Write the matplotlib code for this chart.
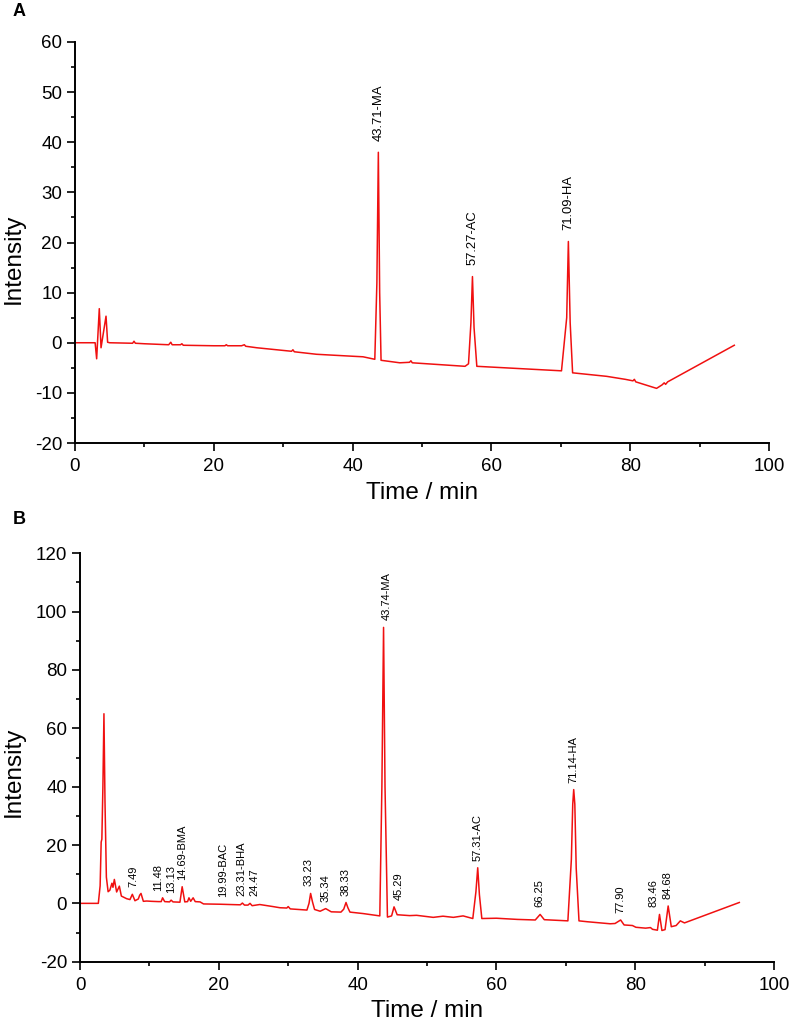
import matplotlib
matplotlib.use("Agg")
import matplotlib.pyplot as plt
import numpy as np
from matplotlib.ticker import MultipleLocator

plt.rcParams["font.family"] = ["Liberation Sans", "DejaVu Sans"]
plt.rcParams["axes.unicode_minus"] = False

# ---- panel A: standard mixture (time in min, intensity) ----
a_time = [0, 2.9, 3.12, 3.5, 3.75, 4.47, 4.7, 5.0, 8.3, 8.5, 8.7, 10.0, 13.5, 13.8,
          14.0, 15.2, 15.4, 15.6, 20.0, 21.6, 21.8, 22.0, 24.0, 24.4, 24.6, 26.2,
          31.2, 31.4, 31.6, 34.8, 40.1, 41.5, 43.2, 43.5, 43.71, 43.9, 44.1, 46.8,
          48.2, 48.4, 48.6, 56.2, 56.7, 57.05, 57.27, 57.5, 57.9, 70.1, 70.85,
          71.09, 71.35, 71.7, 76.6, 79.3, 80.4, 80.6, 80.8, 83.8, 84.6, 84.9, 85.1,
          85.4, 95.0]
a_int = [0, 0, -3.2, 6.8, -1.0, 5.3, 0.1, 0.0, -0.1, 0.3, -0.1, -0.2, -0.4, 0.1,
         -0.4, -0.4, -0.2, -0.5, -0.6, -0.6, -0.4, -0.6, -0.6, -0.4, -0.7, -1.0,
         -1.7, -1.4, -1.8, -2.3, -2.7, -2.8, -3.3, 12.0, 38.0, 10.0, -3.5, -4.0,
         -3.9, -3.6, -4.0, -4.7, -4.2, 4.0, 13.2, 3.0, -4.7, -5.6, 5.0,
         20.2, 4.0, -6.0, -6.7, -7.3, -7.6, -7.3, -7.8, -9.1, -8.4, -8.0, -8.3,
         -7.8, -0.5]
a_labels_t = [43.71, 57.27, 71.09]
a_labels = ["43.71-MA", "57.27-AC", "71.09-HA"]

# ---- panel B: sample ----
b_time = [0, 2.64, 2.9, 3.05, 3.15, 3.3, 3.45, 3.6, 3.8, 4.05, 4.3, 4.6, 4.75, 4.95,
          5.28, 5.67, 5.96, 6.72, 7.2, 7.54, 7.92, 8.4, 8.6, 8.79, 9.13, 9.6, 10.3,
          11.3, 11.7, 11.9, 12.2, 12.9, 13.13, 13.4, 14.4, 14.72, 15.1, 15.5, 15.7,
          15.95, 16.3, 16.6, 17.3, 17.8, 20.2, 21.6, 23.1, 23.4, 23.7, 24.2, 24.5,
          24.8, 25.9, 27.8, 28.8, 29.8, 30.0, 30.3, 32.7, 33.0, 33.23, 33.5, 33.8,
          34.6, 35.4, 36.2, 37.6, 38.0, 38.33, 38.6, 38.9, 40.8, 42.3, 43.2, 43.5,
          43.74, 43.95, 44.3, 44.9, 45.25, 45.7, 47.5, 48.5, 50.9, 52.3, 53.8, 55.2,
          56.6, 57.05, 57.31, 57.55, 57.9, 60.0, 63.0, 65.6, 66.3, 66.9, 70.3, 70.8,
          71.0, 71.14, 71.3, 71.5, 71.9, 73.1, 76.4, 77.1, 77.9, 78.4, 79.6, 80.1,
          81.5, 82.2, 82.5, 83.2, 83.5, 83.85, 84.3, 84.75, 85.2, 85.9, 86.5, 87.1,
          95.0]
b_int = [0, 0, 6.0, 21.0, 22.0, 40.0, 65.0, 35.0, 9.0, 4.0, 4.5, 6.9, 5.5, 8.2,
         3.9, 5.9, 2.5, 1.6, 1.3, 3.1, 0.9, 1.5, 2.8, 3.4, 0.7, 0.8, 0.7,
         0.6, 0.6, 1.9, 0.6, 0.5, 1.1, 0.5, 0.4, 5.7, 0.5, 0.6, 1.9,
         0.7, 1.9, 0.6, 0.5, -0.2, -0.3, -0.4, -0.5, 0.1, -0.6, -0.6, 0.0,
         -0.8, -0.4, -1.1, -1.5, -1.6, -1.1, -1.9, -2.3, 0.0, 3.4, 0.5, -2.1,
         -2.7, -1.8, -2.9, -3.0, -2.0, 0.3, -1.5, -3.0, -3.5, -4.0, -4.3, 40.0,
         94.6, 40.0, -4.7, -4.3, -1.2, -3.9, -4.2, -4.1, -4.8, -4.4, -4.8, -4.3,
         -5.2, 4.0, 12.2, 3.0, -5.2, -5.1, -5.5, -5.7, -3.8, -5.6, -6.0, 15.0,
         34.0, 39.0, 34.0, 12.0, -6.0, -6.3, -7.0, -6.9, -5.7, -7.4, -7.6, -8.2,
         -8.5, -8.3, -8.9, -9.2, -3.8, -9.3, -9.0, -0.9, -8.0, -7.6, -6.0, -6.7,
         0.3]
b_labels_t = [7.49, 11.48, 13.13, 14.69, 19.99, 23.31, 24.47, 33.23, 35.34, 38.33,
              43.74, 45.29, 57.31, 66.25, 71.14, 77.90, 83.46, 84.68]
b_labels = ["7.49", "11.48", "13.13", "14.69-BMA", "19.99-BAC", "23.31-BHA",
            "24.47", "33.23", "35.34", "38.33", "43.74-MA", "45.29", "57.31-AC",
            "66.25", "71.14-HA", "77.90", "83.46", "84.68"]

# sideways nudges (points) where the original moved labels off their peaks
NUDGE = {"19.99-BAC": 3.3, "24.47": 3.3, "45.29": 3.0, "43.74-MA": 2.2,
         "83.46": -4.3, "7.49": 1.0, "11.48": -1.4, "33.23": -1.4}

RED = "#f01010"
W, H = 793, 1026


def draw_panel(ax, t, y, lab_t, labs, ylim, ymaj, lab_size, lab_off):
    t = np.asarray(t)
    y = np.asarray(y)
    ax.plot(t, y, color=RED, lw=1.1)
    for lt, txt in zip(lab_t, labs):
        near = np.abs(t - lt) <= 0.5
        top = y[near].max() if near.any() else np.interp(lt, t, y)
        ax.annotate(txt, (lt, top), xytext=(NUDGE.get(txt, 0), lab_off),
                    textcoords="offset points", rotation=90, ha="center",
                    va="bottom", fontsize=lab_size)
    ax.set_xlim(0, 100)
    ax.set_ylim(*ylim)
    ax.xaxis.set_major_locator(MultipleLocator(20))
    ax.xaxis.set_minor_locator(MultipleLocator(10))
    ax.yaxis.set_major_locator(MultipleLocator(ymaj))
    ax.yaxis.set_minor_locator(MultipleLocator(ymaj / 2))
    for s in ("top", "right"):
        ax.spines[s].set_visible(False)
    for s in ("left", "bottom"):
        ax.spines[s].set_linewidth(1.4)
    ax.tick_params(which="major", length=5.8, width=1.2, labelsize=13.5, pad=3.5)
    ax.tick_params(which="minor", length=3, width=1.2)
    ax.tick_params(axis="x", which="major", pad=5)
    ax.set_xlabel("Time / min", fontsize=17.5)
    ax.set_ylabel("Intensity", fontsize=17.5)


fig = plt.figure(figsize=(W / 100, H / 100), dpi=100)
ax_a = fig.add_axes([75 / W, 1 - 443 / H, 694 / W, 401 / H])
ax_b = fig.add_axes([80 / W, 1 - 961.7 / H, 694 / W, 408.4 / H])

draw_panel(ax_a, a_time, a_int, a_labels_t, a_labels, (-20, 60), 10, 9.4, 8)
draw_panel(ax_b, b_time, b_int, b_labels_t, b_labels, (-20, 120), 20, 8, 5)

ax_a.xaxis.set_label_coords(0.5, -0.097)
ax_b.xaxis.set_label_coords(0.5, -0.094)
ax_a.yaxis.set_label_coords(-0.073, 0.46)
ax_b.yaxis.set_label_coords(-0.08, 0.465)

fig.text(13 / W, 1 - 3 / H, "A", fontsize=13, fontweight="bold", va="top")
fig.text(13 / W, 1 - 511 / H, "B", fontsize=13, fontweight="bold", va="top")

fig.savefig("out.png", dpi=100)
